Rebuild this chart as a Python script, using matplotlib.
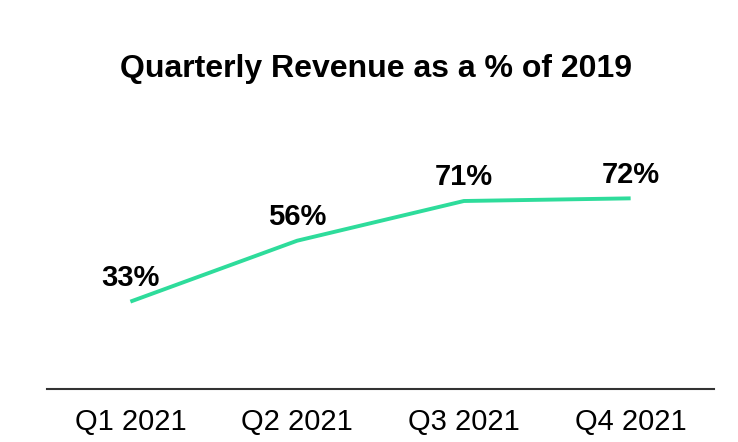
import matplotlib.pyplot as plt
import numpy as np

plt.rcParams['font.family'] = ['Liberation Sans', 'DejaVu Sans']

quarters = ['Q1 2021', 'Q2 2021', 'Q3 2021', 'Q4 2021']
revenue_pct = [33, 56, 71, 72]

fig = plt.figure(figsize=(7.38, 4.42), dpi=100)
ax = fig.add_axes([0.0637, 0.1199, 0.9038, 0.659])

x = np.arange(len(quarters))
ax.plot(x, revenue_pct, color='#2EDC9B', linewidth=2.8, solid_capstyle='butt')

for xi, v in zip(x, revenue_pct):
    ax.annotate('%d%%' % v, (xi, v), xytext=(0, 7), textcoords='offset points',
                ha='center', va='bottom', fontsize=21, fontweight='bold')

ax.set_xlim(-0.5, 3.5)
ax.set_ylim(0, 110)
ax.set_xticks(x)
ax.set_xticklabels(quarters, fontsize=21)
ax.set_yticks([])
ax.tick_params(axis='x', length=0, pad=14)
for s in ['top', 'right', 'left']:
    ax.spines[s].set_visible(False)
ax.spines['bottom'].set_color('#333333')
ax.spines['bottom'].set_linewidth(1.5)

fig.text(0.51, 0.843, 'Quarterly Revenue as a % of 2019', ha='center', va='center',
         fontsize=23, fontweight='bold')

plt.savefig('out.png')
